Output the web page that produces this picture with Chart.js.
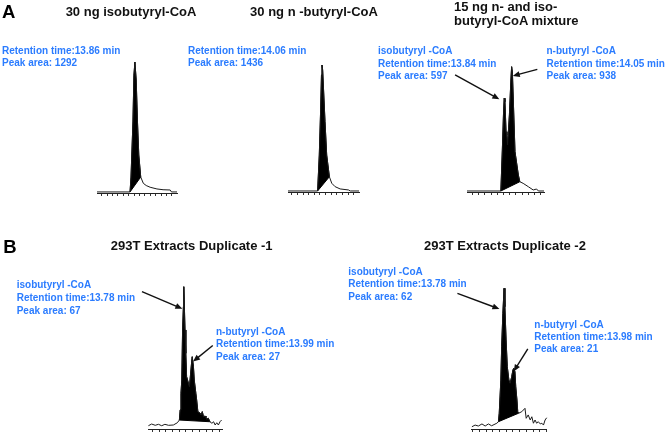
<!DOCTYPE html>
<html>
<head>
<meta charset="utf-8">
<script src="https://cdn.jsdelivr.net/npm/chart.js@4.4.1/dist/chart.umd.min.js"></script>
<style>
  body { margin: 0; background: #fff; }
  #fig { position: relative; width: 668px; height: 434px; overflow: hidden;
         font-family: 'Liberation Sans', Arial, sans-serif; font-weight: bold; }
  #fig canvas { position: absolute; left: 0; top: 0; }
  .t { position: absolute; white-space: nowrap; }
  .letter { font-size: 18.5px; line-height: 18.5px; color: #000; }
  .title { font-size: 13px; line-height: 14px; color: #111; }
  .lbl { font-size: 10px; line-height: 12.3px; color: #2b7cff; }
</style>
</head>
<body>
<div id="fig">
  <canvas id="isoStd" width="668" height="434"></canvas>
  <canvas id="nStd" width="668" height="434"></canvas>
  <canvas id="mix" width="668" height="434"></canvas>
  <canvas id="rep1" width="668" height="434"></canvas>
  <canvas id="rep2" width="668" height="434"></canvas>

  <div class="t letter" style="left:2px;top:2.6px;">A</div>
  <div class="t title" style="left:31px;width:200px;text-align:center;top:5.2px;">30 ng isobutyryl-CoA</div>
  <div class="t title" style="left:214px;width:200px;text-align:center;top:5.2px;">30 ng n -butyryl-CoA</div>
  <div class="t title" style="left:454px;top:0.2px;">15 ng n- and iso-<br>butyryl-CoA mixture</div>

  <div class="t lbl" style="left:2px;top:44.9px;">Retention time:13.86 min<br>Peak area: 1292</div>
  <div class="t lbl" style="left:188px;top:44.9px;">Retention time:14.06 min<br>Peak area: 1436</div>
  <div class="t lbl" style="left:378px;top:45.4px;">isobutyryl -CoA<br>Retention time:13.84 min<br>Peak area: 597</div>
  <div class="t lbl" style="left:546.5px;top:45.4px;">n-butyryl -CoA<br>Retention time:14.05 min<br>Peak area: 938</div>

  <div class="t letter" style="left:3.3px;top:237.7px;">B</div>
  <div class="t title" style="left:91.7px;width:200px;text-align:center;top:239.2px;">293T Extracts Duplicate -1</div>
  <div class="t title" style="left:405px;width:200px;text-align:center;top:239.2px;">293T Extracts Duplicate -2</div>

  <div class="t lbl" style="left:16.7px;top:277.9px;line-height:13px;">isobutyryl -CoA<br>Retention time:13.78 min<br>Peak area: 67</div>
  <div class="t lbl" style="left:216px;top:325.5px;line-height:12.5px;">n-butyryl -CoA<br>Retention time:13.99 min<br>Peak area: 27</div>
  <div class="t lbl" style="left:348.3px;top:266.2px;line-height:12.2px;">isobutyryl -CoA<br>Retention time:13.78 min<br>Peak area: 62</div>
  <div class="t lbl" style="left:534.3px;top:318.9px;line-height:12.2px;">n-butyryl -CoA<br>Retention time:13.98 min<br>Peak area: 21</div>
</div>

<script>
// --- retention time (min) / relative signal (% of tallest peak in the trace) ---
const isoStdTime   = [12.69, 13.71, 13.74, 13.80, 13.83, 13.86, 13.90, 13.94, 13.98, 14.04, 14.12, 14.21, 14.33, 14.54, 14.73, 14.95, 14.99, 15.16];
const isoStdSignal = [0.8, 0.8, 12.2, 54.2, 90, 100, 86.3, 54.2, 29.0, 12.2, 7.4, 5.7, 4.4, 3.1, 2.5, 2.3, 0.8, 0.8];

const nStdTime   = [13.05, 13.93, 13.98, 14.02, 14.045, 14.06, 14.08, 14.15, 14.20, 14.28, 14.35, 14.45, 14.60, 14.85, 14.90, 15.16];
const nStdSignal = [0.8, 0.8, 29.1, 64.6, 92.1, 100, 96, 55.4, 29.1, 12.0, 6.9, 4.2, 2.4, 1.6, 0.8, 0.8];

const mixTime   = [12.85, 13.76, 13.80, 13.83, 13.85, 13.87, 13.90, 13.92, 13.94, 13.99, 14.03, 14.05, 14.07, 14.14, 14.23, 14.27, 14.36, 14.50, 14.63, 14.72, 14.77, 14.92];
const mixSignal = [0.8, 0.8, 33.5, 61.5, 74.8, 72.1, 48.1, 45.5, 37.5, 61.5, 89.4, 100, 95.8, 32.2, 13.6, 8.2, 6.9, 4.2, 1.6, 2.4, 0.8, 0.8];

const rep1Time   = [12.90, 12.98, 13.07, 13.15, 13.23, 13.31, 13.40, 13.52, 13.62, 13.67, 13.69, 13.71, 13.73, 13.75, 13.77, 13.78, 13.79, 13.81, 13.83, 13.85, 13.92, 13.98, 13.99, 14.02, 14.04, 14.08, 14.10, 14.13, 14.19, 14.21, 14.24, 14.27, 14.31, 14.33, 14.35, 14.39, 14.43, 14.48, 14.52, 14.56, 14.60, 14.64, 14.68, 14.72];
const rep1Signal = [2.3, 3.5, 2.6, 3.3, 2.3, 3.3, 2.6, 2.8, 4.4, 6.3, 13.4, 25.1, 34.4, 69.6, 85.9, 100, 90.7, 69.6, 53.2, 36.8, 29.7, 48.5, 50.8, 43.8, 34.4, 25.1, 20.4, 12.2, 11.0, 9.8, 12.2, 8.6, 9.1, 8.2, 6.8, 7.5, 5.1, 4.0, 5.1, 2.8, 4.4, 2.8, 5.1, 6.3];

const rep2Time   = [12.98, 13.06, 13.14, 13.23, 13.31, 13.39, 13.47, 13.60, 13.64, 13.66, 13.70, 13.72, 13.75, 13.78, 13.80, 13.83, 13.86, 13.90, 13.93, 13.97, 14.00, 14.02, 14.05, 14.07, 14.10, 14.12, 14.14, 14.22, 14.30, 14.33, 14.38, 14.43, 14.47, 14.51, 14.55, 14.59, 14.63, 14.68, 14.72, 14.76, 14.80, 14.84];
const rep2Signal = [1.6, 2.8, 2.1, 3.6, 2.1, 3.6, 2.3, 4.1, 5.2, 11.2, 34.8, 58.5, 82.2, 100, 86.9, 63.3, 44.3, 34.8, 32.5, 37.2, 41.9, 43.1, 40.7, 30.1, 20.6, 12.3, 11.2, 12.3, 14.7, 7.6, 10.0, 6.4, 8.7, 4.1, 6.4, 4.1, 5.2, 3.6, 4.1, 2.8, 6.4, 8.0];

// integrated window [start, end] (black area, dropped baseline between the two trace points)
const isoStdPeak = [13.71, 14.04];
const nStdPeak   = [13.93, 14.28];
const mixPeak    = [13.76, 14.27];
const rep1Peak   = [13.67, 14.43];
const rep2Peak   = [13.64, 14.14];

// x-axis ranges (min)
const isoStdRange = [12.69, 15.16];
const nStdRange   = [13.05, 15.16];
const mixRange    = [12.85, 14.92];
const rep1Range   = [12.89, 14.73];
const rep2Range   = [12.975, 14.84];
const tickStep = 1 / 6; // one tick every 10 s

// annotation arrows [fromTime, fromSignal, toTime, toSignal]
const mixArrows  = [[12.53, 93.4, 13.72, 74.0], [14.74, 97.9, 14.08, 92.6]];
const rep1Arrows = [[12.74, 96.5, 13.745, 84.5], [14.50, 58.7, 14.01, 47.4]];
const rep2Arrows = [[12.62, 96.4, 13.665, 85.3], [14.37, 56.9, 14.02, 40.9]];

// --- where each small plot sits on the page (chart area in px) ---
const boxes = {
    isoStd: { left: 97, right: 177, top: 62, axis: 193 },
    nStd:   { left: 288, right: 359, top: 65, axis: 192 },
    mix:    { left: 467, right: 544, top: 66.7, axis: 192 },
    rep1:   { left: 148, right: 222, top: 286.7, axis: 429 },
    rep2:   { left: 471.7, right: 546.7, top: 288.3, axis: 429 }
};
const TICK_LEN = 3;

const arrowPlugin = {
    id: 'arrows',
    afterDatasetsDraw(chart, args, opts) {
        const { ctx, scales: { x, y } } = chart;
        (opts.list || []).forEach(a => {
            const x1 = x.getPixelForValue(a[0]), y1 = y.getPixelForValue(a[1]);
            const x2 = x.getPixelForValue(a[2]), y2 = y.getPixelForValue(a[3]);
            const ang = Math.atan2(y2 - y1, x2 - x1);
            const c = Math.cos(ang), s = Math.sin(ang);
            ctx.save();
            ctx.strokeStyle = '#111';
            ctx.fillStyle = '#111';
            ctx.lineWidth = 1.4;
            ctx.beginPath();
            ctx.moveTo(x1, y1);
            ctx.lineTo(x2 - 5 * c, y2 - 5 * s);
            ctx.stroke();
            ctx.beginPath();
            ctx.moveTo(x2, y2);
            ctx.lineTo(x2 - 7 * c + 3 * s, y2 - 7 * s - 3 * c);
            ctx.lineTo(x2 - 7 * c - 3 * s, y2 - 7 * s + 3 * c);
            ctx.closePath();
            ctx.fill();
            ctx.restore();
        });
    }
};

function drawPanel(id, time, signal, peak, range, arrows) {
    const box = boxes[id];
    const trace = time.map((t, i) => ({ x: t, y: signal[i] }));
    const peakPts = trace.filter(p => p.x >= peak[0] && p.x <= peak[1]);
    const baseline = [peakPts[0], peakPts[peakPts.length - 1]];

    new Chart(document.getElementById(id), {
        type: 'line',
        data: {
            datasets: [
                { data: trace, borderColor: '#1a1a1a', borderWidth: 1, pointRadius: 0, tension: 0, fill: false, clip: false },
                { data: peakPts, borderColor: '#000', backgroundColor: '#000', borderWidth: 1, pointRadius: 0, tension: 0, fill: '+1', clip: false },
                { data: baseline, borderColor: '#000', borderWidth: 1, pointRadius: 0, tension: 0, fill: false, clip: false }
            ]
        },
        options: {
            responsive: false,
            animation: false,
            devicePixelRatio: 1,
            events: [],
            layout: {
                padding: { left: box.left, right: 668 - box.right, top: box.top, bottom: 434 - box.axis - TICK_LEN }
            },
            scales: {
                x: {
                    type: 'linear', min: range[0], max: range[1],
                    ticks: { display: false },
                    grid: { drawOnChartArea: false, drawTicks: true, tickLength: TICK_LEN, color: '#333', lineWidth: 1 },
                    border: { display: true, color: '#222', width: 1 },
                    afterBuildTicks: scale => {
                        const ticks = [];
                        for (let v = Math.ceil(scale.min / tickStep - 1e-6) * tickStep; v <= scale.max + 1e-6; v += tickStep) ticks.push({ value: v });
                        scale.ticks = ticks;
                    }
                },
                y: { display: false, min: 0, max: 100 }
            },
            plugins: { legend: { display: false }, tooltip: { enabled: false }, arrows: { list: arrows } }
        },
        plugins: [arrowPlugin]
    });
}

drawPanel('isoStd', isoStdTime, isoStdSignal, isoStdPeak, isoStdRange, []);
drawPanel('nStd', nStdTime, nStdSignal, nStdPeak, nStdRange, []);
drawPanel('mix', mixTime, mixSignal, mixPeak, mixRange, mixArrows);
drawPanel('rep1', rep1Time, rep1Signal, rep1Peak, rep1Range, rep1Arrows);
drawPanel('rep2', rep2Time, rep2Signal, rep2Peak, rep2Range, rep2Arrows);
</script>
</body>
</html>
